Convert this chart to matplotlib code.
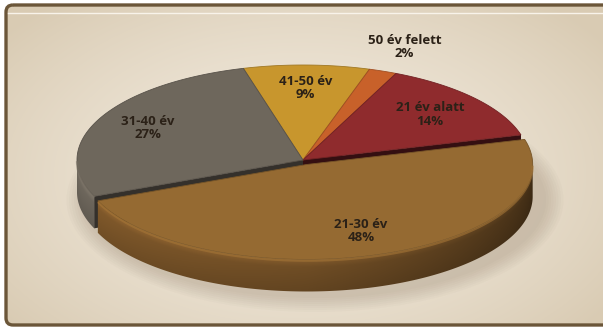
import numpy as np
import matplotlib.pyplot as plt
from matplotlib.patches import Polygon, FancyBboxPatch, Ellipse
from matplotlib.colors import to_rgb

# age groups, clockwise from the top
labels = ['41-50 év', '50 év felett', '21 év alatt', '21-30 év', '31-40 év']
shares = [9, 2, 14, 48, 27]
top_colors = ['#c8962d', '#c8612a', '#8f2b2d', '#956a32', '#6e675c']
side_colors = ['#8f6a1e', '#8c421c', '#5f1c1e', '#6f4d25', '#5e584f']
explode = [0, 0, 0, 0.05, 0]
label_radius = [0.76, 1.27, 0.74, 0.74, 0.765]

W, H = 603, 327
cx, cy = 303, 160
rx, ry, depth = 226, 95, 32
start = 105.3


def rim(t, ox=0.0, oy=0.0, dz=0.0):
    t = np.radians(t)
    return cx + ox + rx * np.cos(t), cy + oy - ry * np.sin(t) + dz


def shade(color, f):
    return tuple(np.clip(np.array(to_rgb(color)) * f, 0, 1))


def wall_factor(t):
    # lighter on the left, dark towards the right side
    return np.where(t < -90, 1.0 + (-90 - t) / 90 * 0.2, 1.0 - (t + 90) / 90 * 0.45)


fig = plt.figure(figsize=(W / 100, H / 100), dpi=100, facecolor='white')
ax = fig.add_axes([0, 0, 1, 1])
ax.set_xlim(0, W)
ax.set_ylim(H, 0)
ax.axis('off')

# panel with a soft radial gradient
box = dict(boxstyle='round,pad=0,rounding_size=7')
yy, xx = np.mgrid[0:H, 0:W]
d = np.sqrt(((xx - 300) / 380) ** 2 + ((yy - 175) / 230) ** 2)
c0 = np.array(to_rgb('#f1e9dc'))
c1 = np.array(to_rgb('#d9cbb3'))
grad = c0 + (c1 - c0) * np.clip(d, 0, 1)[..., None] ** 1.6
img = ax.imshow(grad, extent=(0, W, H, 0), zorder=0, interpolation='bilinear')
img.set_clip_path(FancyBboxPatch((6, 5), W + 30, 320, transform=ax.transData, **box))
ax.add_patch(FancyBboxPatch((6, 5), W + 30, 320, fc='none', ec='#6b5639', lw=2.4,
                            zorder=5, **box))
ax.plot([8, W], [12.5, 12.5], color='#f8f3ea', lw=1.0, zorder=5)

# soft shadow under the pie
for k in range(8):
    ax.add_patch(Ellipse((cx + 12, cy + depth + 8), 2 * rx + 10 + k * 5, 2 * ry + 6 + k * 4,
                         fc='#5a4630', ec='none', alpha=0.025, zorder=1))

# slice angles (degrees, clockwise)
bounds = start - np.concatenate([[0], np.cumsum(shares)]) / 100 * 360
slices = []
for i in range(len(shares)):
    t1, t0 = bounds[i], bounds[i + 1]
    mid = (t0 + t1) / 2
    ox = explode[i] * rx * np.cos(np.radians(mid))
    oy = -explode[i] * ry * np.sin(np.radians(mid))
    slices.append((i, t0, t1, mid, ox, oy))


def draw_wall(i, a, b, ox, oy, z):
    ts = np.linspace(a, b, 200)
    xt, yt = rim(ts, ox, oy)
    xb, yb = rim(ts[::-1], ox, oy, depth)
    wall = Polygon(np.column_stack([np.r_[xt, xb], np.r_[yt, yb]]), closed=True,
                   fc='none', ec='none', transform=ax.transData)
    x0, x1 = xt.min() - 1, xt.max() + 1
    y0, y1 = yt.min() - 1, yb.max() + 1
    gx, gy = np.meshgrid(np.linspace(x0, x1, int((x1 - x0) * 2)),
                         np.linspace(y0, y1, int((y1 - y0) * 2)))
    u = np.clip((gx - cx - ox) / rx, -1, 1)
    t = -np.degrees(np.arccos(u))
    ytop = cy + oy + ry * np.sqrt(1 - u ** 2)
    v = np.clip((gy - ytop) / depth, 0, 1)
    vert = np.where(v < 0.25, 1.2 - 0.8 * v, 1.0 - 0.15 * (v - 0.25))
    f = (wall_factor(t) * vert)[..., None]
    rgb = np.clip(np.array(to_rgb(side_colors[i])) * f, 0, 1)
    im = ax.imshow(rgb, extent=(x0, x1, y1, y0), zorder=z, interpolation='bilinear')
    im.set_clip_path(wall)


def draw_slice(i, t0, t1, mid, ox, oy, z):
    # front wall
    for k in range(-1, 2):
        a, b = max(t0, -180 + 360 * k), min(t1, 360 * k)
        if b > a:
            draw_wall(i, a - 360 * k, b - 360 * k, ox, oy, z)
    # radial faces that turn towards the viewer
    for t, vis in ((t1, np.cos(np.radians(t1)) < 0), (t0, np.cos(np.radians(t0)) > 0)):
        if vis:
            xc, yc = cx + ox, cy + oy
            xr, yr = rim(t, ox, oy)
            ax.add_patch(Polygon([(xc, yc), (xr, yr), (xr, yr + depth), (xc, yc + depth)],
                                 closed=True, fc=shade(side_colors[i], 0.55), ec='none',
                                 zorder=z + 0.05))
    # top face
    ts = np.linspace(t0, t1, 200)
    xs, ys = rim(ts, ox, oy)
    pts = np.vstack([[cx + ox, cy + oy], np.column_stack([xs, ys])])
    ax.add_patch(Polygon(pts, closed=True, fc=top_colors[i], ec=shade(top_colors[i], 0.8),
                         lw=0.6, zorder=z + 0.1))
    # bevel highlight along the front rim
    for k in range(-1, 2):
        a, b = max(t0, -180 + 360 * k), min(t1, 360 * k)
        if b > a:
            ts = np.linspace(a, b, 100)
            xs, ys = rim(ts, ox, oy, 1.2)
            ax.plot(xs, ys, color=shade(top_colors[i], 1.1), lw=1.6, alpha=0.6,
                    solid_capstyle='butt', zorder=z + 0.2)


for s in slices:
    if explode[s[0]] == 0:
        draw_slice(*s, z=2)
for s in slices:
    if explode[s[0]] > 0:
        draw_slice(*s, z=3)

for i, t0, t1, mid, ox, oy in slices:
    r = label_radius[i]
    lx, ly = rim(mid, ox, oy)
    lx = cx + ox + r * (lx - cx - ox)
    ly = cy + oy + r * (ly - cy - oy)
    ax.text(lx, ly, f'{labels[i]}\n{shares[i]}%', ha='center', va='center',
            fontsize=9.5, fontweight='bold', family=['Open Sans', 'DejaVu Sans'],
            color='#2b2117', linespacing=1.05, zorder=6)

ax.set_xlim(0, W)
ax.set_ylim(H, 0)
fig.savefig('out.png', dpi=100, facecolor='white')
